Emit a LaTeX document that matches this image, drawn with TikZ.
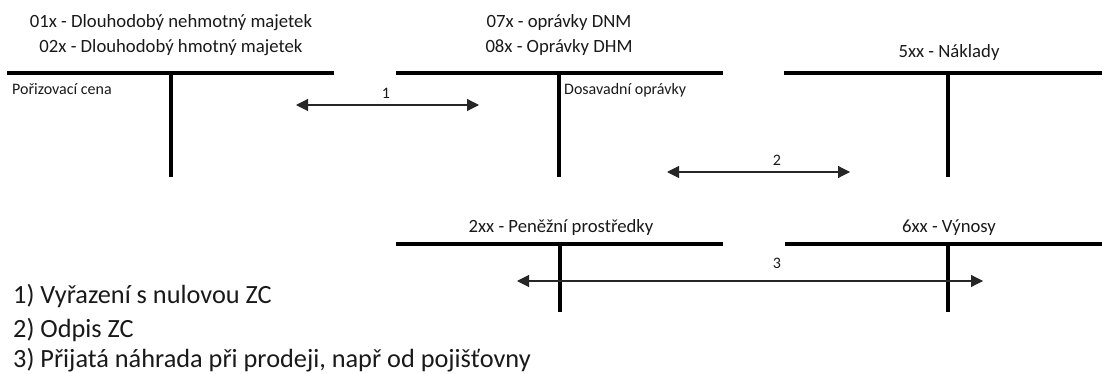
\documentclass[tikz,border=0pt]{standalone}
\usepackage{fontspec}
\setmainfont{Carlito}
\usetikzlibrary{arrows.meta}
\tikzset{
  acct/.style={line width=3.6pt},
  flow/.style={line width=1.1pt, draw=black!85, {Triangle[length=12pt,width=12pt]}-{Triangle[length=12pt,width=12pt]}},
  title/.style={font=\fontsize{18.7}{22}\selectfont, text=black!90, inner sep=0pt, anchor=base},
  small/.style={font=\fontsize{16}{19}\selectfont, text=black!90, inner sep=0pt, anchor=base},
  legend/.style={font=\fontsize{26.3}{31}\selectfont, text=black!90, inner sep=0pt, anchor=base west}
}
\begin{document}
\begin{tikzpicture}[x=1pt,y=-1pt]
\useasboundingbox (0,0) rectangle (1102,374);
% account titles
\node[title] (t1a) at (171,28) {01x - Dlouhodobý nehmotný majetek};
\node[title] (t1b) at (171,53) {02x - Dlouhodobý hmotný majetek};
\node[title] (t2a) at (559,28) {07x - oprávky DNM};
\node[title] (t2b) at (559,53) {08x - Oprávky DHM};
\node[title] (t3) at (949,58) {5xx - Náklady};
\node[title] (t4) at (561,232) {2xx - Peněžní prostředky};
\node[title] (t5) at (949,232) {6xx - Výnosy};
% T accounts
\draw[acct] (7,73) -- (334,73) (171,73) -- (171,177);
\draw[acct] (396,73) -- (723,73) (559,73) -- (559,177);
\draw[acct] (784,73) -- (1102,73) (948,73) -- (948,177);
\draw[acct] (396,244) -- (723,244) (560,244) -- (560,312);
\draw[acct] (785,244) -- (1102,244) (948,244) -- (948,312);
% side labels
\node[small, anchor=base west] (pc) at (12,95) {Pořizovací cena};
\node[small, anchor=base west] (do) at (564,95) {Dosavadní oprávky};
% flows
\coordinate (a1l) at (296,105); \coordinate (a1r) at (479,105);
\coordinate (a2l) at (667,172); \coordinate (a2r) at (850,172);
\coordinate (a3l) at (517,281); \coordinate (a3r) at (983,281);
\draw[flow] (a1l) -- (a1r);
\draw[flow] (a2l) -- (a2r);
\draw[flow] (a3l) -- (a3r);
\node[small] (n1) at (386,99) {1};
\node[small] (n2) at (777,166) {2};
\node[small] (n3) at (777,268) {3};
% legend
\node[legend] (l1) at (13,303) {1) Vyřazení s nulovou ZC};
\node[legend] (l2) at (13,337) {2) Odpis ZC};
\node[legend] (l3) at (13,367) {3) Přijatá náhrada při prodeji, např od pojišťovny};
\end{tikzpicture}
\end{document}
